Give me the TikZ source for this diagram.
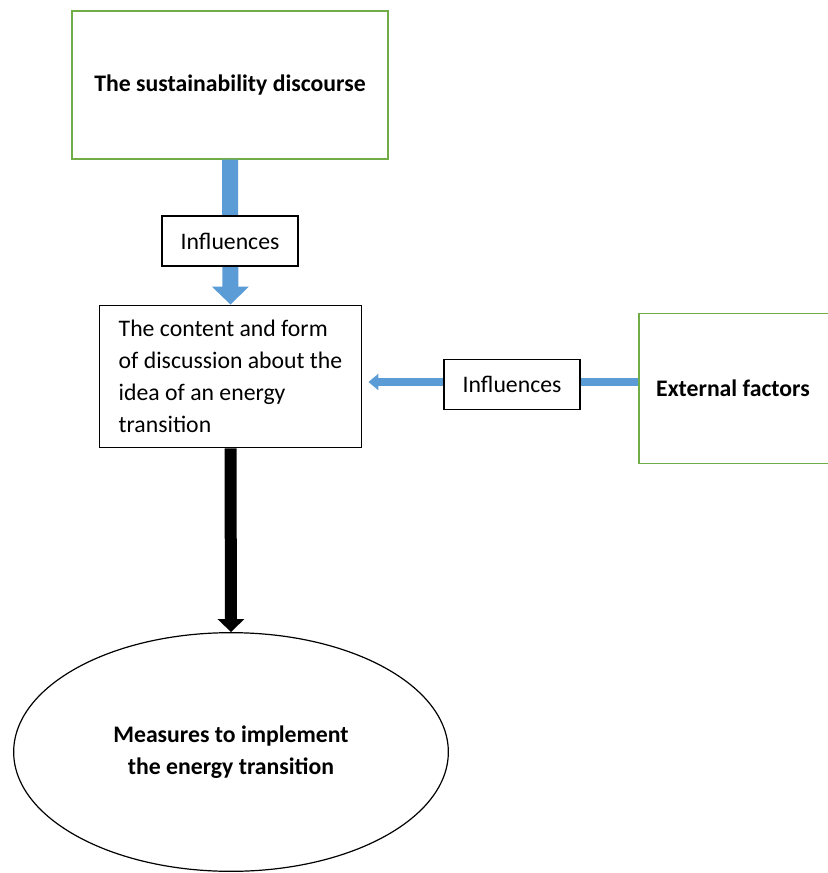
\documentclass[tikz,border=0pt]{standalone}
\usepackage{fontspec}
\setmainfont{Carlito}
\usepackage{tikz}
\usetikzlibrary{arrows.meta}
\usetikzlibrary{positioning}
\usetikzlibrary{shapes.geometric}
\definecolor{mgreen}{rgb}{0.44, 0.68, 0.28}
\definecolor{mblue}{rgb}{0.36, 0.61, 0.84}
\tikzset{greenbox/.style = {draw=mgreen, line width=0.9pt, fill=white}}
\tikzset{plainbox/.style = {draw=black, line width=0.9pt, fill=white}}
\tikzset{bluearrow/.style = {draw=mblue, line width=#1}}

\begin{document}
\begin{tikzpicture}[x=0.75pt, y=-0.75pt,
                    every node/.style={font=\fontsize{17.8}{24}\selectfont}]
      \useasboundingbox (0, 0) rectangle (827, 873);
      \node[greenbox, minimum width=237pt, minimum height=111pt] (sus) at (230, 85)
            {\bfseries The sustainability discourse};
      \node[plainbox, minimum width=197pt, minimum height=107pt, align=left] (content) at (230.5, 376.5)
            {The content and form\\of discussion about the\\idea of an energy\\transition};
      \node[greenbox, minimum width=156pt, minimum height=112pt] (ext) at (743, 388.5)
            {\bfseries External factors\kern15pt};
      \node[plainbox, ellipse, minimum width=326pt, minimum height=179pt, align=center] (measures) at (231, 752)
            {\bfseries Measures to implement\\\bfseries the energy transition};
      \coordinate (flow) at (512, 382);
      \draw[bluearrow=12pt, -{Triangle[width=27pt, length=13.5pt]}] (sus.south) -- (content.north);
      \draw[bluearrow=6pt, -{Triangle[width=12pt, length=7.5pt]}, shorten >=4.5pt]
            (flow -| ext.west) -- (flow -| content.east);
      \draw[line width=9pt, -{Triangle[width=19.5pt, length=9.75pt]}] (content.south) -- (measures.north);
      \node[plainbox, minimum width=102pt, minimum height=37.5pt] (inftop) at (230, 241) {Influences};
      \node[plainbox, minimum width=102pt, minimum height=37pt] (infright) at (512, 384.5) {Influences};
    \end{tikzpicture}
\end{document}
